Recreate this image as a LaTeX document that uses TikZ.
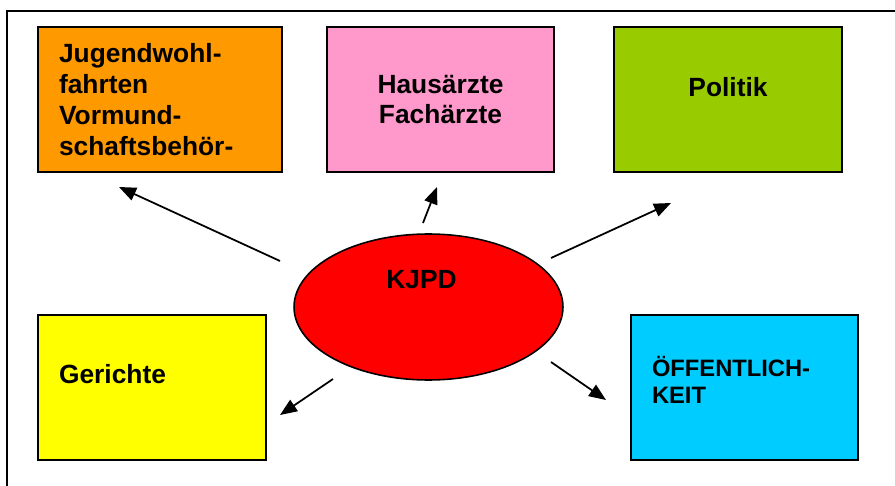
\documentclass[tikz,border=0pt]{standalone}
\usepackage{fontspec}
\setmainfont{Liberation Sans}
\usetikzlibrary{shapes.geometric,arrows.meta}
\definecolor{jworange}{HTML}{FF9900}
\definecolor{arztpink}{HTML}{FF99CC}
\definecolor{polgreen}{HTML}{99CC00}
\definecolor{gerichtgelb}{HTML}{FFFF00}
\definecolor{oeffcyan}{HTML}{00CCFF}
\begin{document}
\begin{tikzpicture}[x=0.02cm,y=-0.02cm,
	feld/.style={draw,line width=1.1pt,minimum width=4.56cm,minimum height=2.9cm,font=\bfseries\fontsize{15pt}{17.6pt}\selectfont},
	links/.style={text width=#1,align=left,inner xsep=0.42cm},
	pfeil/.style={line width=1pt,-{Triangle[length=0.34cm,width=0.27cm]}}]
	\useasboundingbox (0,0) rectangle (895,486);
	\begin{scope}
		\clip (0,0) rectangle (895,486);
		\draw[line width=1.1pt] (7,500)--(7,11)--(910,11);
	\end{scope}

	\node[feld,fill=jworange,minimum width=4.88cm,links=4.04cm] (jw) at (160,99.5) {Jugendwohl-\\fahrten\\Vormund-\\schaftsbehör-};
	\node[feld,fill=arztpink,minimum width=4.54cm,align=center] (arzt) at (440.5,99.5) {Hausärzte\\Fachärzte};
	\node[feld,fill=polgreen,text height=0.36cm,text depth=0.46cm] (pol) at (728,99.5) {Politik};
	\node[feld,fill=gerichtgelb,links=3.72cm,text height=0.36cm,text depth=0.54cm] (ger) at (152,387.5) {Gerichte};
	\node[feld,fill=oeffcyan,minimum width=4.54cm,links=3.7cm,text height=0.32cm,text depth=0.78cm,font=\bfseries\fontsize{13.5pt}{15.9pt}\selectfont] (oeff) at (744.5,387.5) {ÖFFENTLICH-\\KEIT};
	\node[draw,ellipse,fill=red,line width=0.9pt,inner sep=0pt,minimum width=5.38cm,minimum height=2.92cm,text height=0.36cm,text depth=1.12cm,font=\bfseries\fontsize{15pt}{17.6pt}\selectfont] (kjpd) at (428.5,307) {KJPD\kern0.28cm};

	\coordinate (jw-aus) at (280,261);
	\coordinate (jw-ein) at (119,187);
	\coordinate (arzt-aus) at (423,223);
	\coordinate (arzt-ein) at (437,187);
	\coordinate (pol-aus) at (551,258);
	\coordinate (pol-ein) at (671,203);
	\coordinate (ger-aus) at (333,379);
	\coordinate (ger-ein) at (280,415);
	\coordinate (oeff-aus) at (551,362);
	\coordinate (oeff-ein) at (606,400);

	\draw[pfeil] (jw-aus)--(jw-ein);
	\draw[pfeil] (arzt-aus)--(arzt-ein);
	\draw[pfeil] (pol-aus)--(pol-ein);
	\draw[pfeil] (ger-aus)--(ger-ein);
	\draw[pfeil] (oeff-aus)--(oeff-ein);
\end{tikzpicture}
\end{document}
